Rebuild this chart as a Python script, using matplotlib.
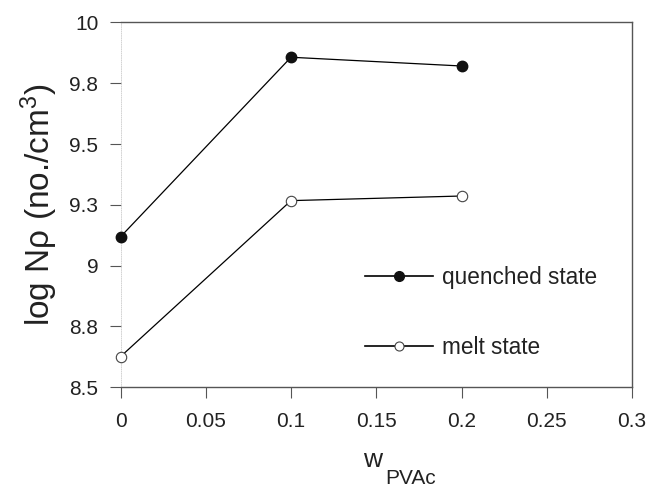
import matplotlib
matplotlib.use("Agg")
import matplotlib.pyplot as plt
from matplotlib.lines import Line2D

plt.rcParams['font.family'] = ['Liberation Sans', 'DejaVu Sans']
plt.rcParams['mathtext.fontset'] = 'custom'
plt.rcParams['mathtext.rm'] = 'Liberation Sans'
plt.rcParams['mathtext.it'] = 'Liberation Sans:italic'

# data
w_pvac = [0.0, 0.1, 0.2]
quenched = [9.118, 9.857, 9.821]
melt = [8.625, 9.267, 9.286]

x_ticks = [0, 0.05, 0.1, 0.15, 0.2, 0.25, 0.3]
x_labels = ['0', '0.05', '0.1', '0.15', '0.2', '0.25', '0.3']
y_ticks = [8.5, 8.75, 9.0, 9.25, 9.5, 9.75, 10.0]
y_labels = ['8.5', '8.8', '9', '9.3', '9.5', '9.8', '10']

fig = plt.figure(figsize=(6.5, 4.87), dpi=100)
ax = fig.add_axes([0.1854, 0.2053, 0.9723 - 0.1854, 0.9538 - 0.2053])

ax.plot(w_pvac, quenched, color='black', linewidth=0.9, clip_on=False,
        marker='o', markersize=7.5, markerfacecolor='#111111',
        markeredgecolor='#111111', label='quenched state', zorder=3)
ax.plot(w_pvac, melt, color='black', linewidth=0.9, clip_on=False,
        marker='o', markersize=7.5, markerfacecolor='white',
        markeredgecolor='#444444', markeredgewidth=0.8, label='melt state', zorder=3)

ax.set_xlim(0, 0.3)
ax.set_ylim(8.5, 10)
ax.set_xticks(x_ticks)
ax.set_xticklabels(x_labels)
ax.set_yticks(y_ticks)
ax.set_yticklabels(y_labels)

ax.tick_params(axis='both', direction='out', length=8, width=0.8,
               color='#555555', labelsize=15, labelcolor='#222222')
ax.tick_params(axis='x', pad=10)
ax.tick_params(axis='y', pad=8)

for side in ['top', 'bottom', 'right']:
    ax.spines[side].set_color('#555555')
    ax.spines[side].set_linewidth(1.0)
ax.spines['left'].set_color('#cccccc')
ax.spines['left'].set_linewidth(0.6)
ax.spines['left'].set_linestyle(':')

handles = [
    Line2D([], [], color='black', linewidth=1.2, marker='o', markersize=7,
           markerfacecolor='#111111', markeredgecolor='#111111'),
    Line2D([], [], color='black', linewidth=1.2, marker='o', markersize=6.5,
           markerfacecolor='white', markeredgecolor='#444444', markeredgewidth=0.8),
]
ax.legend(handles, ['quenched state', 'melt state'], loc='center left',
          bbox_to_anchor=(0.478, 0.2045), frameon=False, fontsize=16.3,
          handlelength=3.0, handletextpad=0.4, labelspacing=2.1,
          borderpad=0, borderaxespad=0, labelcolor='#222222')

ax.set_ylabel('log N\u03c1 (no./cm$^3$)', fontsize=24, color='#222222', labelpad=7)

fig.text(373 / 650, 1 - 460 / 487, 'w', fontsize=19, ha='center', va='center',
         color='#222222')
fig.text(385 / 650, 1 - 478 / 487, 'PVAc', fontsize=15, ha='left', va='center',
         color='#222222')

fig.savefig('out.png', dpi=100)
